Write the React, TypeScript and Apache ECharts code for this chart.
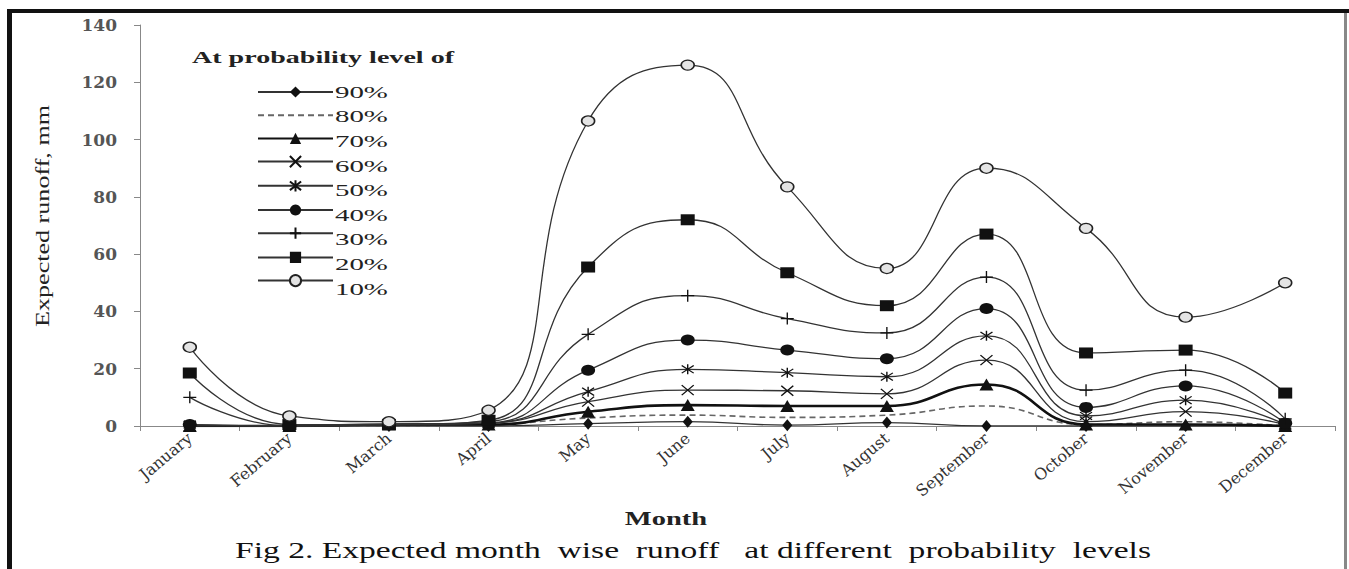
import React, { useEffect, useRef } from "react";
import * as echarts from "echarts";

const months = ["January", "February", "March", "April", "May", "June", "July", "August", "September", "October", "November", "December"];
const yTicks = [0, 20, 40, 60, 80, 100, 120, 140];
const levels = ["90%", "80%", "70%", "60%", "50%", "40%", "30%", "20%", "10%"];

const p90 = [0, 0, 0, 0, 0.8, 1.5, 0.3, 1.2, 0, 0, 0, 0];
const p80 = [0, 0, 0, 0.5, 2.8, 3.8, 3, 3.8, 7, 0.5, 1.5, 0];
const p70 = [0, 0, 0.5, 0.5, 5, 7.3, 7, 7, 14.5, 0.5, 0.5, 0];
const p60 = [0, 0, 0.5, 1, 8.5, 12.5, 12.3, 11.2, 23, 1.5, 5, 0.5];
const p50 = [0.5, 0, 0.5, 1, 12, 19.8, 18.6, 17.2, 31.5, 3.5, 9, 0.5];
const p40 = [0.5, 0, 0.5, 1, 19.5, 30, 26.5, 23.5, 41, 6.5, 14, 1];
const p30 = [10, 0, 0.5, 1.5, 32, 45.5, 37.5, 32.5, 52, 12.5, 19.5, 2.5];
const p20 = [18.5, 0.5, 0.5, 2, 55.5, 72, 53.5, 42, 67, 25.5, 26.5, 11.5];
const p10 = [27.5, 3.5, 1.5, 5.5, 106.5, 126, 83.5, 55, 90, 69, 38, 50];

const LINE = "#333";
const MARK = "#111";
const SERIF = "'Liberation Serif', 'DejaVu Serif', serif";
const WIDE_SERIF = "'DejaVu Serif', 'Liberation Serif', serif";

const X_PATH = "path://M0,0L10,10M10,0L0,10";
const STAR_PATH = "path://M0,0L10,10M10,0L0,10M5,-1.5L5,11.5";
const PLUS_PATH = "path://M5,-1L5,11M0,5L10,5";

const LEGEND_TOP = 80;
const LEGEND_ROW = 24.6;

export default function App() {
  const ref = useRef<HTMLDivElement>(null);

  useEffect(() => {
    if (!ref.current) return;
    const chart = echarts.init(ref.current, null, { renderer: "svg" });

    const mk = (name: string, data: number[], symbol: string, size: any, extra: any = {}) => ({
      name,
      type: "line",
      data,
      smooth: 0.5,
      symbol,
      symbolSize: size,
      lineStyle: { color: LINE, width: 1.3 },
      itemStyle: { color: MARK, borderColor: MARK, borderWidth: 0 },
      z: 3,
      ...extra,
    });

    const strokeSym = { color: MARK, borderColor: MARK, borderWidth: 1.3 };

    const legendLabels = levels.map((lv, i) => ({
      type: "text",
      x: 335,
      y: LEGEND_TOP + 12 + i * LEGEND_ROW,
      scaleX: 1.7,
      style: {
        text: lv,
        fontFamily: SERIF,
        fontSize: 17,
        fill: "#222",
        align: "left",
        verticalAlign: "middle",
      },
      z: 50,
    }));

    const option: any = {
      animation: false,
      backgroundColor: "#fff",
      grid: { left: 140, right: 14, top: 25, bottom: 143, containLabel: false },
      legend: {
        orient: "vertical",
        left: 252,
        top: LEGEND_TOP,
        itemWidth: 75,
        itemHeight: 14,
        itemGap: LEGEND_ROW - 14,
        formatter: () => "",
        textStyle: { fontSize: 1 },
        data: levels.map((lv) =>
          lv === "80%" ? { name: lv, itemStyle: { color: "rgba(0,0,0,0)", borderWidth: 0 } } : { name: lv }
        ),
      },
      xAxis: {
        type: "category",
        data: months,
        boundaryGap: true,
        axisLine: { lineStyle: { color: "#888", width: 1 } },
        axisTick: { show: true, length: 5, lineStyle: { color: "#888" } },
        axisLabel: {
          rotate: 40,
          margin: 10,
          fontFamily: WIDE_SERIF,
          fontSize: 16,
          color: "#333",
          interval: 0,
        },
      },
      yAxis: {
        type: "value",
        min: yTicks[0],
        max: yTicks[yTicks.length - 1],
        interval: 20,
        axisLine: { show: true, lineStyle: { color: "#888", width: 1 } },
        axisTick: { show: true, length: 6, lineStyle: { color: "#888" } },
        splitLine: { show: false },
        axisLabel: { fontFamily: WIDE_SERIF, fontSize: 17, fontWeight: "bold", color: "#555", margin: 23 },
      },
      series: [
        mk("90%", p90, "diamond", [10, 12]),
        mk("80%", p80, "none", 0, { lineStyle: { color: "#666", width: 1.6, type: [6, 4] } }),
        mk("70%", p70, "triangle", [14, 12], { lineStyle: { color: "#111", width: 2.6 } }),
        mk("60%", p60, X_PATH, [12, 10], { itemStyle: strokeSym }),
        mk("50%", p50, STAR_PATH, [12, 10], { itemStyle: strokeSym }),
        mk("40%", p40, "circle", [14, 11]),
        mk("30%", p30, PLUS_PATH, [13, 12], { itemStyle: strokeSym }),
        mk("20%", p20, "rect", [14, 11]),
        mk("10%", p10, "circle", [13, 10], {
          itemStyle: { color: "#e4e4e4", borderColor: "#222", borderWidth: 1.4 },
        }),
      ],
      graphic: [
        { type: "rect", left: 7, top: 9, shape: { width: 1342, height: 4 }, style: { fill: "#111" }, z: 100 },
        { type: "rect", left: 7, top: 9, shape: { width: 5, height: 560 }, style: { fill: "#111" }, z: 100 },
        { type: "rect", left: 1344, top: 13, shape: { width: 3, height: 556 }, style: { fill: "#888" }, z: 100 },
        {
          type: "text",
          x: 192,
          y: 57,
          scaleX: 1.65,
          style: {
            text: "At probability level of",
            fontFamily: SERIF,
            fontWeight: "bold",
            fontSize: 17,
            fill: "#222",
            align: "left",
            verticalAlign: "middle",
          },
          z: 50,
        },
        ...legendLabels,
        {
          type: "text",
          x: 43,
          y: 216,
          rotation: Math.PI / 2,
          scaleX: 1.45,
          style: {
            text: "Expected runoff, mm",
            fontFamily: SERIF,
            fontSize: 18,
            fill: "#222",
            align: "center",
            verticalAlign: "middle",
          },
          z: 50,
        },
        {
          type: "text",
          x: 666,
          y: 518,
          scaleX: 1.5,
          style: {
            text: "Month",
            fontFamily: SERIF,
            fontWeight: "bold",
            fontSize: 19,
            fill: "#222",
            align: "center",
            verticalAlign: "middle",
          },
          z: 50,
        },
        {
          type: "text",
          x: 235,
          y: 550,
          scaleX: 1.46,
          style: {
            text: "Fig 2. Expected month  wise  runoff   at different  probability  levels",
            fontFamily: SERIF,
            fontSize: 23,
            fill: "#111",
            align: "left",
            verticalAlign: "middle",
          },
          z: 50,
        },
      ],
    };

    chart.setOption(option);
    return () => chart.dispose();
  }, []);

  return (
    <div
      ref={ref}
      style={{ position: "fixed", left: 0, top: 0, width: 1349, height: 569, background: "#fff" }}
    />
  );
}
